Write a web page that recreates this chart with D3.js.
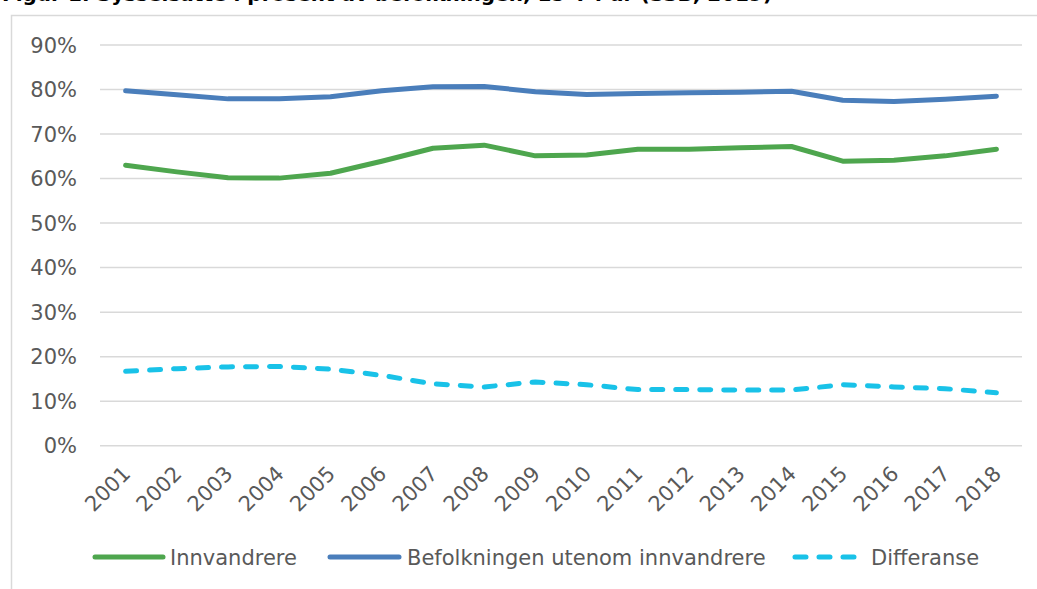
<!DOCTYPE html>
<html>
<head>
<meta charset="utf-8">
<script src="https://cdn.jsdelivr.net/npm/d3@7"></script>
<style>
    body { margin: 0; background: #fff; }
    svg { display: block; font-family: "DejaVu Sans", Verdana, sans-serif; }
</style>
</head>
<body>
<div id="chartArea"></div>
<script>
// Data
const years = ["2001", "2002", "2003", "2004", "2005", "2006", "2007", "2008", "2009",
               "2010", "2011", "2012", "2013", "2014", "2015", "2016", "2017", "2018"];
const innvandrere = [63.0, 61.5, 60.2, 60.1, 61.2, 63.9, 66.8, 67.5, 65.1,
                     65.3, 66.6, 66.6, 66.9, 67.2, 63.9, 64.1, 65.1, 66.6];
const befolkningen = [79.7, 78.8, 77.9, 77.9, 78.4, 79.7, 80.6, 80.7, 79.5,
                      78.9, 79.1, 79.3, 79.4, 79.6, 77.6, 77.3, 77.8, 78.5];
const differanse = [16.7, 17.3, 17.7, 17.8, 17.2, 15.8, 13.9, 13.2, 14.3,
                    13.7, 12.6, 12.6, 12.5, 12.5, 13.7, 13.2, 12.8, 11.9];
const yTicks = [0, 10, 20, 30, 40, 50, 60, 70, 80, 90];
const seriesNames = ["Innvandrere", "Befolkningen utenom innvandrere", "Differanse"];

document.addEventListener("DOMContentLoaded", function() {
    const width = 1037;
    const height = 589;

    const svg = d3.select("#chartArea")
        .append("svg")
        .attr("width", width)
        .attr("height", height);

    // title, cut off at the top in the original
    svg.append("text")
        .attr("x", 2)
        .attr("y", 1)
        .attr("font-size", 20)
        .attr("font-weight", "bold")
        .attr("fill", "#000")
        .text("Figur 1: Sysselsatte i prosent av befolkningen, 15–74 år (SSB, 2019)");

    // chart frame
    svg.append("rect")
        .attr("x", 11.5)
        .attr("y", 15.5)
        .attr("width", 1040)
        .attr("height", 600)
        .attr("fill", "none")
        .attr("stroke", "#d9d9d9")
        .attr("stroke-width", 1.5);

    const x = d3.scaleBand()
        .domain(years)
        .range([100, 1022]);

    const y = d3.scaleLinear()
        .domain([0, 90])
        .range([445.7, 45]);

    // gridlines
    svg.selectAll(".yGrid")
        .data(yTicks)
        .enter()
        .append("line")
        .attr("class", "yGrid")
        .attr("x1", 100)
        .attr("x2", 1022)
        .attr("y1", d => y(d))
        .attr("y2", d => y(d))
        .attr("stroke", "#d9d9d9")
        .attr("stroke-width", 1.5);

    // y labels
    svg.selectAll(".yLabel")
        .data(yTicks)
        .enter()
        .append("text")
        .attr("class", "yLabel")
        .attr("x", 77)
        .attr("y", d => y(d))
        .attr("dy", "0.36em")
        .attr("text-anchor", "end")
        .attr("font-size", 21)
        .attr("fill", "#595959")
        .text(d => d + "%");

    // x labels, rotated
    svg.selectAll(".xLabel")
        .data(years)
        .enter()
        .append("text")
        .attr("class", "xLabel")
        .attr("transform", d => `translate(${x(d) + x.bandwidth() / 2 + 6},475) rotate(-45)`)
        .attr("text-anchor", "end")
        .attr("font-size", 21)
        .attr("fill", "#595959")
        .text(d => d);

    const line = d3.line()
        .x((d, i) => x(years[i]) + x.bandwidth() / 2)
        .y(d => y(d));

    const series = [
        { values: befolkningen, color: "#4a7ebb", dash: null },
        { values: innvandrere, color: "#4ea64e", dash: null },
        { values: differanse, color: "#19c2e8", dash: "11,13" }
    ];

    series.forEach(function(s) {
        svg.append("path")
            .datum(s.values)
            .attr("d", line)
            .attr("fill", "none")
            .attr("stroke", s.color)
            .attr("stroke-width", 5)
            .attr("stroke-linecap", "round")
            .attr("stroke-linejoin", "round")
            .attr("stroke-dasharray", s.dash);
    });

    // legend
    const legend = [
        { name: seriesNames[0], color: "#4ea64e", dash: null, x1: 95, x2: 163, tx: 170 },
        { name: seriesNames[1], color: "#4a7ebb", dash: null, x1: 330, x2: 399, tx: 407 },
        { name: seriesNames[2], color: "#19c2e8", dash: "11,13", x1: 795, x2: 858, tx: 871 }
    ];
    const legendY = 557;

    legend.forEach(function(l) {
        svg.append("line")
            .attr("x1", l.x1)
            .attr("x2", l.x2)
            .attr("y1", legendY)
            .attr("y2", legendY)
            .attr("stroke", l.color)
            .attr("stroke-width", 5)
            .attr("stroke-linecap", "round")
            .attr("stroke-dasharray", l.dash);
        svg.append("text")
            .attr("x", l.tx)
            .attr("y", legendY)
            .attr("dy", "0.36em")
            .attr("font-size", 21)
            .attr("fill", "#595959")
            .text(l.name);
    });
});
</script>
</body>
</html>
